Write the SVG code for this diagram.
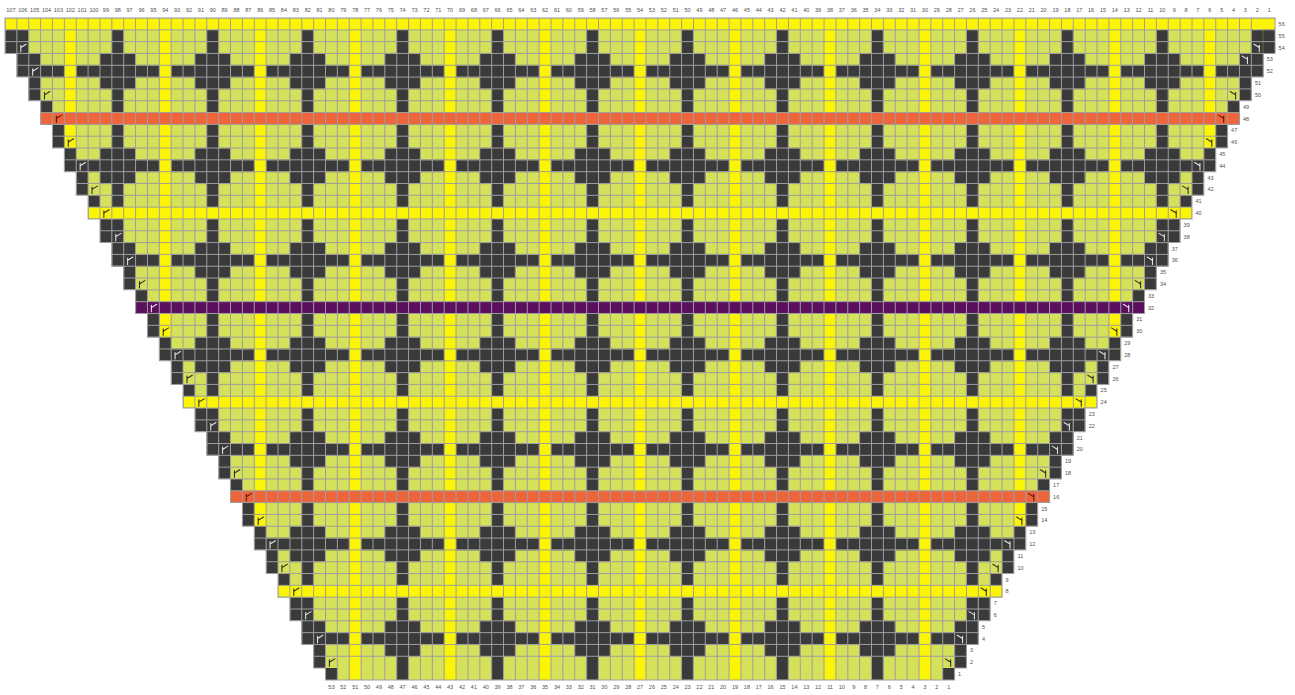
<svg xmlns="http://www.w3.org/2000/svg" xmlns:xlink="http://www.w3.org/1999/xlink" width="1295" height="695" viewBox="0 0 1295 695">
<style>
.t{font-family:"Liberation Sans",Arial,sans-serif;font-size:5.5px;fill:#505050;text-anchor:middle}
.rl{text-anchor:start}
.g{fill:none;stroke:#9e9e9e;stroke-width:1;vector-effect:non-scaling-stroke}
.mw{stroke:#e4e4e4}.mk{stroke:#2c2c2c}.mo{stroke:#6a1208}.mp{stroke:#eeeeee}
</style>
<defs>
<clipPath id="cp" clipPathUnits="userSpaceOnUse"><polygon id="shape" points="0,0 0,3 1,3 1,5 2,5 2,7 3,7 3,9 4,9 4,11 5,11 5,13 6,13 6,15 7,15 7,17 8,17 8,19 9,19 9,21 10,21 10,23 11,23 11,25 12,25 12,27 13,27 13,29 14,29 14,31 15,31 15,33 16,33 16,35 17,35 17,37 18,37 18,39 19,39 19,41 20,41 20,43 21,43 21,45 22,45 22,47 23,47 23,49 24,49 24,51 25,51 25,53 26,53 26,55 27,55 27,56 80,56 80,55 81,55 81,53 82,53 82,51 83,51 83,49 84,49 84,47 85,47 85,45 86,45 86,43 87,43 87,41 88,41 88,39 89,39 89,37 90,37 90,35 91,35 91,33 92,33 92,31 93,31 93,29 94,29 94,27 95,27 95,25 96,25 96,23 97,23 97,21 98,21 98,19 99,19 99,17 100,17 100,15 101,15 101,13 102,13 102,11 103,11 103,9 104,9 104,7 105,7 105,5 106,5 106,3 107,3 107,0"/></clipPath>
<pattern id="cross" patternUnits="userSpaceOnUse" width="8" height="8"><path d="M0 3H3V4H8V5H3V6H0ZM1 1H2V3H1ZM1 6H2V8H1Z" fill="#3a3a3a"/></pattern>
<path id="ml" d="M0.33 0.85V0.3M0.33 0.5L0.78 0.22"/>
<path id="mr" d="M0.67 0.85V0.3M0.67 0.5L0.22 0.22"/>
</defs>
<rect width="1295" height="695" fill="#ffffff"/>
<g id="chart" transform="translate(5 18) scale(11.87 11.82)">
<g id="cells" clip-path="url(#cp)">
<rect width="107" height="56" fill="#d5e05b"/>
<rect width="107" height="56" fill="url(#cross)"/>
<path d="M5 0h1v56h-1zM13 0h1v56h-1zM21 0h1v56h-1zM29 0h1v56h-1zM37 0h1v56h-1zM45 0h1v56h-1zM53 0h1v56h-1zM61 0h1v56h-1zM69 0h1v56h-1zM77 0h1v56h-1zM85 0h1v56h-1zM93 0h1v56h-1zM101 0h1v56h-1z" fill="#fbf505"/>
<rect y="0" width="107" height="1" fill="#fbf505"/>
<rect y="8" width="107" height="1" fill="#ef653b"/>
<rect y="16" width="107" height="1" fill="#fbf505"/>
<rect y="24" width="107" height="1" fill="#5b0f5e"/>
<rect y="32" width="107" height="1" fill="#fbf505"/>
<rect y="40" width="107" height="1" fill="#ef653b"/>
<rect y="48" width="107" height="1" fill="#fbf505"/>
<path fill="#3a3a3a" d="M0 1h1v2h-1zM1 3h1v2h-1zM2 5h1v2h-1zM3 7h1v1h-1zM4 9h1v2h-1zM5 11h1v2h-1zM6 13h1v2h-1zM7 15h1v1h-1zM8 17h1v2h-1zM9 19h1v2h-1zM10 21h1v2h-1zM11 23h1v1h-1zM12 25h1v2h-1zM13 27h1v2h-1zM14 29h1v2h-1zM15 31h1v1h-1zM16 33h1v2h-1zM17 35h1v2h-1zM18 37h1v2h-1zM19 39h1v1h-1zM20 41h1v2h-1zM21 43h1v2h-1zM22 45h1v2h-1zM23 47h1v1h-1zM24 49h1v2h-1zM25 51h1v2h-1zM26 53h1v2h-1zM27 55h1v1h-1z"/>
<path fill="#3a3a3a" d="M106 1h1v2h-1zM105 3h1v2h-1zM104 5h1v2h-1zM103 7h1v1h-1zM102 9h1v2h-1zM101 11h1v2h-1zM100 13h1v2h-1zM99 15h1v1h-1zM98 17h1v2h-1zM97 19h1v2h-1zM96 21h1v2h-1zM95 23h1v1h-1zM94 25h1v2h-1zM93 27h1v2h-1zM92 29h1v2h-1zM91 31h1v1h-1zM90 33h1v2h-1zM89 35h1v2h-1zM88 37h1v2h-1zM87 39h1v1h-1zM86 41h1v2h-1zM85 43h1v2h-1zM84 45h1v2h-1zM83 47h1v1h-1zM82 49h1v2h-1zM81 51h1v2h-1zM80 53h1v2h-1zM79 55h1v1h-1z"/>
<path class="g" d="M0 0v56m1-56v56m1-56v56m1-56v56m1-56v56m1-56v56m1-56v56m1-56v56m1-56v56m1-56v56m1-56v56m1-56v56m1-56v56m1-56v56m1-56v56m1-56v56m1-56v56m1-56v56m1-56v56m1-56v56m1-56v56m1-56v56m1-56v56m1-56v56m1-56v56m1-56v56m1-56v56m1-56v56m1-56v56m1-56v56m1-56v56m1-56v56m1-56v56m1-56v56m1-56v56m1-56v56m1-56v56m1-56v56m1-56v56m1-56v56m1-56v56m1-56v56m1-56v56m1-56v56m1-56v56m1-56v56m1-56v56m1-56v56m1-56v56m1-56v56m1-56v56m1-56v56m1-56v56m1-56v56m1-56v56m1-56v56m1-56v56m1-56v56m1-56v56m1-56v56m1-56v56m1-56v56m1-56v56m1-56v56m1-56v56m1-56v56m1-56v56m1-56v56m1-56v56m1-56v56m1-56v56m1-56v56m1-56v56m1-56v56m1-56v56m1-56v56m1-56v56m1-56v56m1-56v56m1-56v56m1-56v56m1-56v56m1-56v56m1-56v56m1-56v56m1-56v56m1-56v56m1-56v56m1-56v56m1-56v56m1-56v56m1-56v56m1-56v56m1-56v56m1-56v56m1-56v56m1-56v56m1-56v56m1-56v56m1-56v56m1-56v56m1-56v56m1-56v56m1-56v56m1-56v56m1-56v56M0 0h107m-107 1h107m-107 1h107m-107 1h107m-107 1h107m-107 1h107m-107 1h107m-107 1h107m-107 1h107m-107 1h107m-107 1h107m-107 1h107m-107 1h107m-107 1h107m-107 1h107m-107 1h107m-107 1h107m-107 1h107m-107 1h107m-107 1h107m-107 1h107m-107 1h107m-107 1h107m-107 1h107m-107 1h107m-107 1h107m-107 1h107m-107 1h107m-107 1h107m-107 1h107m-107 1h107m-107 1h107m-107 1h107m-107 1h107m-107 1h107m-107 1h107m-107 1h107m-107 1h107m-107 1h107m-107 1h107m-107 1h107m-107 1h107m-107 1h107m-107 1h107m-107 1h107m-107 1h107m-107 1h107m-107 1h107m-107 1h107m-107 1h107m-107 1h107m-107 1h107m-107 1h107m-107 1h107m-107 1h107"/>
</g>
<use href="#shape" fill="none" stroke="#9e9e9e" stroke-width="0.085"/>
<g id="markers" fill="none" stroke-width="0.09" stroke-linecap="round">
<use href="#ml" x="1" y="2" class="mw"/><use href="#ml" x="2" y="4" class="mw"/><use href="#ml" x="3" y="6" class="mk"/><use href="#ml" x="4" y="8" class="mo"/><use href="#ml" x="5" y="10" class="mk"/><use href="#ml" x="6" y="12" class="mw"/><use href="#ml" x="7" y="14" class="mk"/><use href="#ml" x="8" y="16" class="mk"/><use href="#ml" x="9" y="18" class="mw"/><use href="#ml" x="10" y="20" class="mw"/><use href="#ml" x="11" y="22" class="mk"/><use href="#ml" x="12" y="24" class="mp"/><use href="#ml" x="13" y="26" class="mk"/><use href="#ml" x="14" y="28" class="mw"/><use href="#ml" x="15" y="30" class="mk"/><use href="#ml" x="16" y="32" class="mk"/><use href="#ml" x="17" y="34" class="mw"/><use href="#ml" x="18" y="36" class="mw"/><use href="#ml" x="19" y="38" class="mk"/><use href="#ml" x="20" y="40" class="mo"/><use href="#ml" x="21" y="42" class="mk"/><use href="#ml" x="22" y="44" class="mw"/><use href="#ml" x="23" y="46" class="mk"/><use href="#ml" x="24" y="48" class="mk"/><use href="#ml" x="25" y="50" class="mw"/><use href="#ml" x="26" y="52" class="mw"/><use href="#ml" x="27" y="54" class="mk"/>
<use href="#mr" x="105" y="2" class="mw"/><use href="#mr" x="104" y="3" class="mw"/><use href="#mr" x="103" y="6" class="mk"/><use href="#mr" x="102" y="8" class="mo"/><use href="#mr" x="101" y="10" class="mk"/><use href="#mr" x="100" y="12" class="mw"/><use href="#mr" x="99" y="14" class="mk"/><use href="#mr" x="98" y="16" class="mk"/><use href="#mr" x="97" y="18" class="mw"/><use href="#mr" x="96" y="20" class="mw"/><use href="#mr" x="95" y="22" class="mk"/><use href="#mr" x="94" y="24" class="mp"/><use href="#mr" x="93" y="26" class="mk"/><use href="#mr" x="92" y="28" class="mw"/><use href="#mr" x="91" y="30" class="mk"/><use href="#mr" x="90" y="32" class="mk"/><use href="#mr" x="89" y="34" class="mw"/><use href="#mr" x="88" y="36" class="mw"/><use href="#mr" x="87" y="38" class="mk"/><use href="#mr" x="86" y="40" class="mo"/><use href="#mr" x="85" y="42" class="mk"/><use href="#mr" x="84" y="44" class="mw"/><use href="#mr" x="83" y="46" class="mk"/><use href="#mr" x="82" y="48" class="mk"/><use href="#mr" x="81" y="50" class="mw"/><use href="#mr" x="80" y="52" class="mw"/><use href="#mr" x="79" y="54" class="mk"/>
</g>
</g>
<g id="top-labels" class="t">
<text x="10.9" y="12">107</text><text x="22.8" y="12">106</text><text x="34.7" y="12">105</text><text x="46.5" y="12">104</text><text x="58.4" y="12">103</text><text x="70.3" y="12">102</text><text x="82.2" y="12">101</text><text x="94.0" y="12">100</text><text x="105.9" y="12">99</text><text x="117.8" y="12">98</text><text x="129.6" y="12">97</text><text x="141.5" y="12">96</text><text x="153.4" y="12">95</text><text x="165.2" y="12">94</text><text x="177.1" y="12">93</text><text x="189.0" y="12">92</text><text x="200.9" y="12">91</text><text x="212.7" y="12">90</text><text x="224.6" y="12">89</text><text x="236.5" y="12">88</text><text x="248.3" y="12">87</text><text x="260.2" y="12">86</text><text x="272.1" y="12">85</text><text x="283.9" y="12">84</text><text x="295.8" y="12">83</text><text x="307.7" y="12">82</text><text x="319.6" y="12">81</text><text x="331.4" y="12">80</text><text x="343.3" y="12">79</text><text x="355.2" y="12">78</text><text x="367.0" y="12">77</text><text x="378.9" y="12">76</text><text x="390.8" y="12">75</text><text x="402.6" y="12">74</text><text x="414.5" y="12">73</text><text x="426.4" y="12">72</text><text x="438.3" y="12">71</text><text x="450.1" y="12">70</text><text x="462.0" y="12">69</text><text x="473.9" y="12">68</text><text x="485.7" y="12">67</text><text x="497.6" y="12">66</text><text x="509.5" y="12">65</text><text x="521.3" y="12">64</text><text x="533.2" y="12">63</text><text x="545.1" y="12">62</text><text x="557.0" y="12">61</text><text x="568.8" y="12">60</text><text x="580.7" y="12">59</text><text x="592.6" y="12">58</text><text x="604.4" y="12">57</text><text x="616.3" y="12">56</text><text x="628.2" y="12">55</text><text x="640.0" y="12">54</text><text x="651.9" y="12">53</text><text x="663.8" y="12">52</text><text x="675.7" y="12">51</text><text x="687.5" y="12">50</text><text x="699.4" y="12">49</text><text x="711.3" y="12">48</text><text x="723.1" y="12">47</text><text x="735.0" y="12">46</text><text x="746.9" y="12">45</text><text x="758.7" y="12">44</text><text x="770.6" y="12">43</text><text x="782.5" y="12">42</text><text x="794.4" y="12">41</text><text x="806.2" y="12">40</text><text x="818.1" y="12">39</text><text x="830.0" y="12">38</text><text x="841.8" y="12">37</text><text x="853.7" y="12">36</text><text x="865.6" y="12">35</text><text x="877.4" y="12">34</text><text x="889.3" y="12">33</text><text x="901.2" y="12">32</text><text x="913.1" y="12">31</text><text x="924.9" y="12">30</text><text x="936.8" y="12">29</text><text x="948.7" y="12">28</text><text x="960.5" y="12">27</text><text x="972.4" y="12">26</text><text x="984.3" y="12">25</text><text x="996.1" y="12">24</text><text x="1008.0" y="12">23</text><text x="1019.9" y="12">22</text><text x="1031.8" y="12">21</text><text x="1043.6" y="12">20</text><text x="1055.5" y="12">19</text><text x="1067.4" y="12">18</text><text x="1079.2" y="12">17</text><text x="1091.1" y="12">16</text><text x="1103.0" y="12">15</text><text x="1114.8" y="12">14</text><text x="1126.7" y="12">13</text><text x="1138.6" y="12">12</text><text x="1150.5" y="12">11</text><text x="1162.3" y="12">10</text><text x="1174.2" y="12">9</text><text x="1186.1" y="12">8</text><text x="1197.9" y="12">7</text><text x="1209.8" y="12">6</text><text x="1221.7" y="12">5</text><text x="1233.5" y="12">4</text><text x="1245.4" y="12">3</text><text x="1257.3" y="12">2</text><text x="1269.2" y="12">1</text>
</g>
<g id="bottom-labels" class="t">
<text x="331.4" y="689">53</text><text x="343.3" y="689">52</text><text x="355.2" y="689">51</text><text x="367.0" y="689">50</text><text x="378.9" y="689">49</text><text x="390.8" y="689">48</text><text x="402.6" y="689">47</text><text x="414.5" y="689">46</text><text x="426.4" y="689">45</text><text x="438.3" y="689">44</text><text x="450.1" y="689">43</text><text x="462.0" y="689">42</text><text x="473.9" y="689">41</text><text x="485.7" y="689">40</text><text x="497.6" y="689">39</text><text x="509.5" y="689">38</text><text x="521.3" y="689">37</text><text x="533.2" y="689">36</text><text x="545.1" y="689">35</text><text x="557.0" y="689">34</text><text x="568.8" y="689">33</text><text x="580.7" y="689">32</text><text x="592.6" y="689">31</text><text x="604.4" y="689">30</text><text x="616.3" y="689">29</text><text x="628.2" y="689">28</text><text x="640.0" y="689">27</text><text x="651.9" y="689">26</text><text x="663.8" y="689">25</text><text x="675.7" y="689">24</text><text x="687.5" y="689">23</text><text x="699.4" y="689">22</text><text x="711.3" y="689">21</text><text x="723.1" y="689">20</text><text x="735.0" y="689">19</text><text x="746.9" y="689">18</text><text x="758.7" y="689">17</text><text x="770.6" y="689">16</text><text x="782.5" y="689">15</text><text x="794.4" y="689">14</text><text x="806.2" y="689">13</text><text x="818.1" y="689">12</text><text x="830.0" y="689">11</text><text x="841.8" y="689">10</text><text x="853.7" y="689">9</text><text x="865.6" y="689">8</text><text x="877.4" y="689">7</text><text x="889.3" y="689">6</text><text x="901.2" y="689">5</text><text x="913.1" y="689">4</text><text x="924.9" y="689">3</text><text x="936.8" y="689">2</text><text x="948.7" y="689">1</text>
</g>
<g id="row-labels" class="t rl">
<text x="1278.6" y="25.9">56</text><text x="1278.6" y="37.7">55</text><text x="1278.6" y="49.5">54</text><text x="1266.7" y="61.4">53</text><text x="1266.7" y="73.2">52</text><text x="1254.9" y="85.0">51</text><text x="1254.9" y="96.8">50</text><text x="1243.0" y="108.7">49</text><text x="1243.0" y="120.5">48</text><text x="1231.1" y="132.3">47</text><text x="1231.1" y="144.1">46</text><text x="1219.3" y="155.9">45</text><text x="1219.3" y="167.8">44</text><text x="1207.4" y="179.6">43</text><text x="1207.4" y="191.4">42</text><text x="1195.5" y="203.2">41</text><text x="1195.5" y="215.0">40</text><text x="1183.6" y="226.9">39</text><text x="1183.6" y="238.7">38</text><text x="1171.8" y="250.5">37</text><text x="1171.8" y="262.3">36</text><text x="1159.9" y="274.1">35</text><text x="1159.9" y="286.0">34</text><text x="1148.0" y="297.8">33</text><text x="1148.0" y="309.6">32</text><text x="1136.2" y="321.4">31</text><text x="1136.2" y="333.2">30</text><text x="1124.3" y="345.1">29</text><text x="1124.3" y="356.9">28</text><text x="1112.4" y="368.7">27</text><text x="1112.4" y="380.5">26</text><text x="1100.6" y="392.3">25</text><text x="1100.6" y="404.2">24</text><text x="1088.7" y="416.0">23</text><text x="1088.7" y="427.8">22</text><text x="1076.8" y="439.6">21</text><text x="1076.8" y="451.4">20</text><text x="1064.9" y="463.3">19</text><text x="1064.9" y="475.1">18</text><text x="1053.1" y="486.9">17</text><text x="1053.1" y="498.7">16</text><text x="1041.2" y="510.5">15</text><text x="1041.2" y="522.4">14</text><text x="1029.3" y="534.2">13</text><text x="1029.3" y="546.0">12</text><text x="1017.5" y="557.8">11</text><text x="1017.5" y="569.6">10</text><text x="1005.6" y="581.5">9</text><text x="1005.6" y="593.3">8</text><text x="993.7" y="605.1">7</text><text x="993.7" y="616.9">6</text><text x="981.9" y="628.7">5</text><text x="981.9" y="640.6">4</text><text x="970.0" y="652.4">3</text><text x="970.0" y="664.2">2</text><text x="958.1" y="676.0">1</text>
</g>
</svg>
